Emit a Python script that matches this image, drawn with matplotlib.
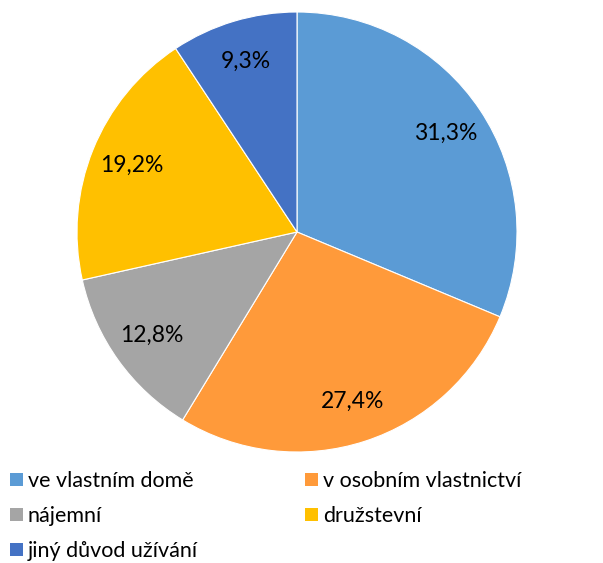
import matplotlib; matplotlib.use('Agg')
import matplotlib.pyplot as plt
from matplotlib.patches import Patch

labels = ['ve vlastním domě', 'v osobním vlastnictví', 'nájemní', 'družstevní', 'jiný důvod užívání']
values = [31.3, 27.4, 12.8, 19.2, 9.3]
colors = ['#5B9BD5', '#FF9A3A', '#A5A5A5', '#FFC000', '#4472C4']

plt.rcParams['font.family'] = ['Lato', 'DejaVu Sans']

fig = plt.figure(figsize=(6.03, 5.63), dpi=100)
ax = fig.add_axes([(297 - 220) / 603, (563 - 452) / 563, 440 / 603, 440 / 563])

wedges, texts, autotexts = ax.pie(
    values, colors=colors, startangle=90, counterclock=False,
    autopct=lambda p: f'{p:.1f}%'.replace('.', ','), pctdistance=0.81,
    wedgeprops=dict(edgecolor='white', linewidth=0.8),
    textprops=dict(fontsize=16.5, color='black'))
ax.set_xlim(-1, 1)
ax.set_ylim(-1, 1)
ax.set_aspect('equal')

# legend is row-wise in the original, matplotlib fills columns first
order = [0, 2, 4, 1, 3]
handles = [Patch(facecolor=colors[i], label=labels[i]) for i in order]
fig.legend(handles=handles, loc='upper left', bbox_to_anchor=(-0.009, 1 - 456 / 563),
           ncol=2, frameon=False, fontsize=15.5, handlelength=0.6, handleheight=0.6,
           handletextpad=0.25, labelspacing=0.7, columnspacing=4.95, borderaxespad=0.3)

fig.savefig('out.png', dpi=100)
